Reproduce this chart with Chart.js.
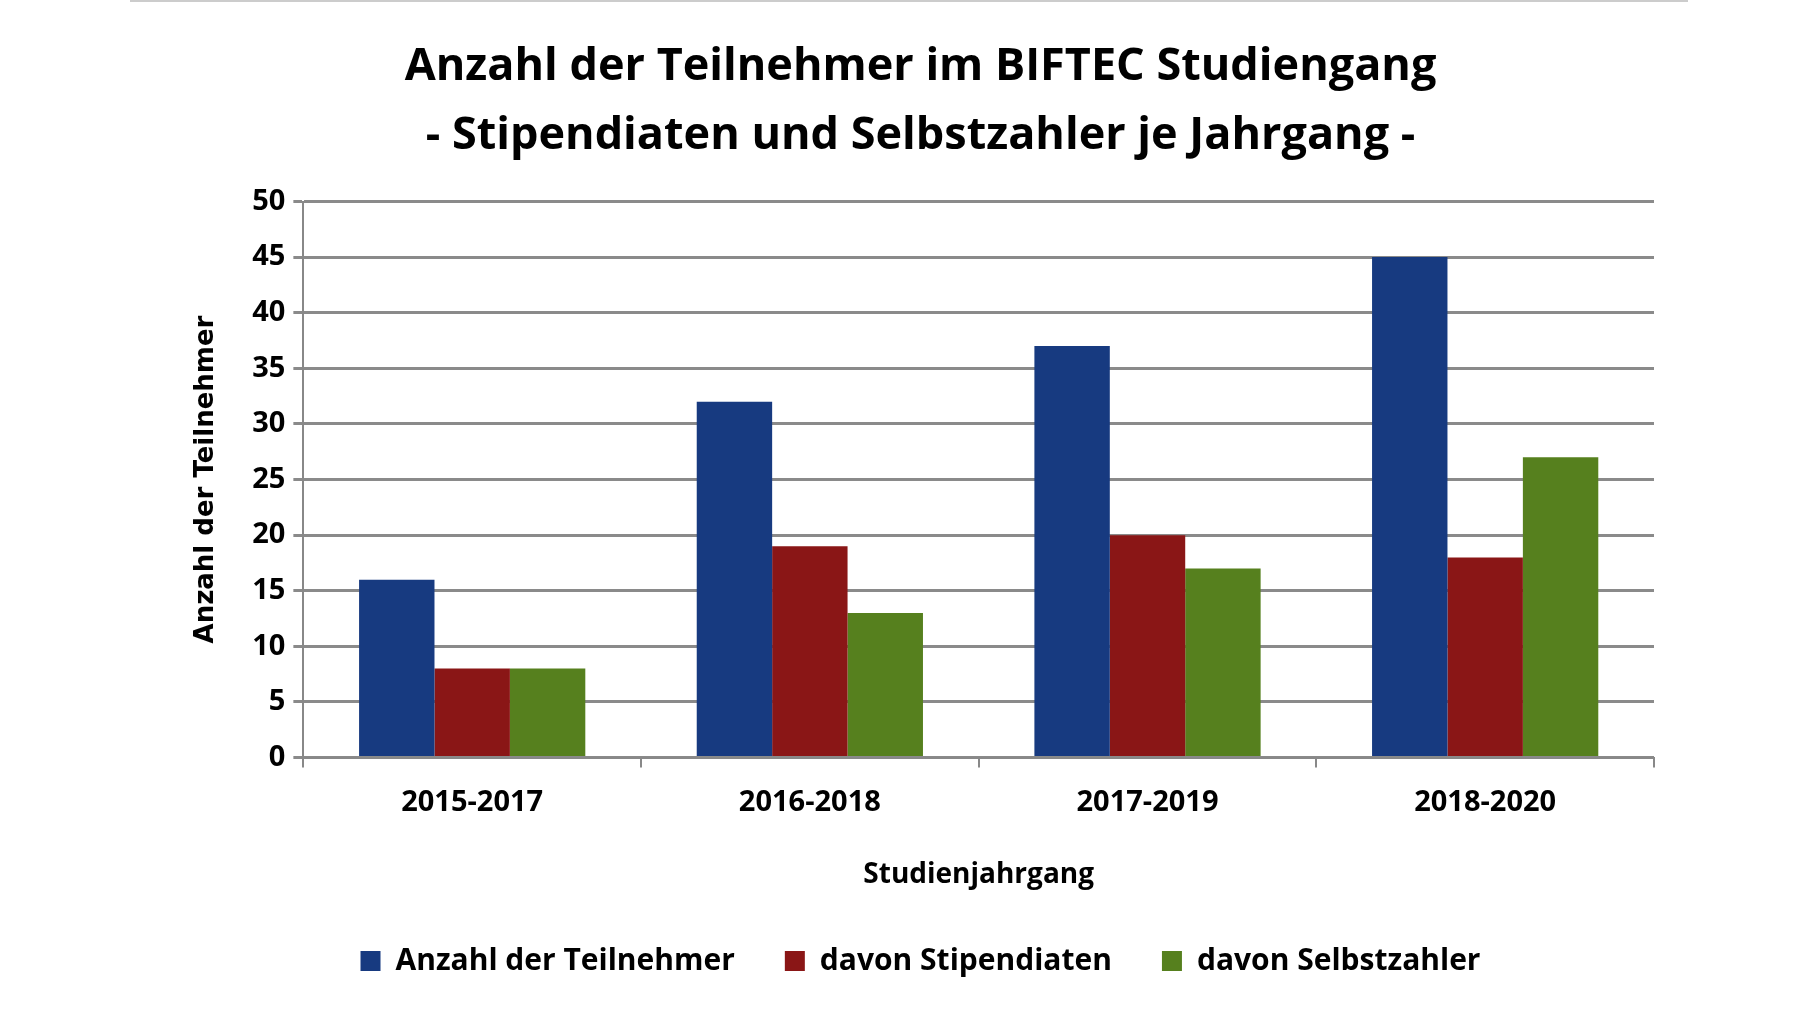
<!DOCTYPE html>
<html>
<head>
<meta charset="utf-8">
<script src="https://cdn.jsdelivr.net/npm/chart.js@4/dist/chart.umd.min.js"></script>
<style>
  html, body { margin: 0; padding: 0; background: #fff; }
  #wrap { position: relative; width: 1800px; height: 1016px; }
  #topline { position: absolute; left: 130px; top: 0; width: 1558px; height: 2px; background: #ccc; }
</style>
</head>
<body>
<div id="wrap">
  <div id="topline"></div>
  <canvas id="teilnehmerChart" width="1800" height="1016"></canvas>
</div>
<script>
const categories = ['2015-2017', '2016-2018', '2017-2019', '2018-2020'];
const teilnehmer = [16, 32, 37, 45];
const stipendiaten = [8, 19, 20, 18];
const selbstzahler = [8, 13, 17, 27];
const yTicks = [0, 5, 10, 15, 20, 25, 30, 35, 40, 45, 50];

const font = '"Open Sans", "Liberation Sans", sans-serif';

new Chart(document.getElementById('teilnehmerChart'), {
    type: 'bar',
    data: {
        labels: categories,
        datasets: [
            { label: 'Anzahl der Teilnehmer', data: teilnehmer, backgroundColor: '#173a80' },
            { label: 'davon Stipendiaten', data: stipendiaten, backgroundColor: '#8a1616' },
            { label: 'davon Selbstzahler', data: selbstzahler, backgroundColor: '#56801e' }
        ]
    },
    options: {
        responsive: false,
        animation: false,
        layout: { padding: { left: 187, right: 146, top: 20, bottom: 30 } },
        datasets: { bar: { barPercentage: 1, categoryPercentage: 0.67 } },
        plugins: {
            title: {
                display: true,
                text: ['Anzahl der Teilnehmer im BIFTEC Studiengang', '- Stipendiaten und Selbstzahler je Jahrgang -'],
                color: '#000',
                font: { family: font, size: 45, weight: 'bold', lineHeight: 1.55 },
                padding: { top: 12, bottom: 30 }
            },
            legend: {
                position: 'bottom',
                labels: {
                    color: '#000',
                    font: { family: font, size: 30, weight: 'bold' },
                    boxWidth: 20,
                    boxHeight: 20,
                    padding: 50
                }
            },
            tooltip: { enabled: false }
        },
        scales: {
            x: {
                grid: { display: true, drawOnChartArea: false, color: '#888', lineWidth: 2, tickLength: 10 },
                border: { color: '#888', width: 2 },
                ticks: { color: '#000', font: { family: font, size: 29, weight: 'bold' }, padding: 18 },
                title: { display: true, text: 'Studienjahrgang', color: '#000', font: { family: font, size: 28, weight: 'bold' }, padding: { top: 20 } }
            },
            y: {
                min: 0,
                max: 50,
                afterBuildTicks: axis => { axis.ticks = yTicks.map(v => ({ value: v })); },
                grid: { color: '#8a8a8a', lineWidth: 3, tickLength: 10 },
                border: { color: '#888', width: 2 },
                ticks: { color: '#000', font: { family: font, size: 29, weight: 'bold' }, padding: 8 },
                title: { display: true, text: 'Anzahl der Teilnehmer', color: '#000', font: { family: '"DejaVu Sans", sans-serif', size: 26, weight: 'bold' }, padding: { bottom: 22 } }
            }
        }
    }
});
</script>
</body>
</html>
